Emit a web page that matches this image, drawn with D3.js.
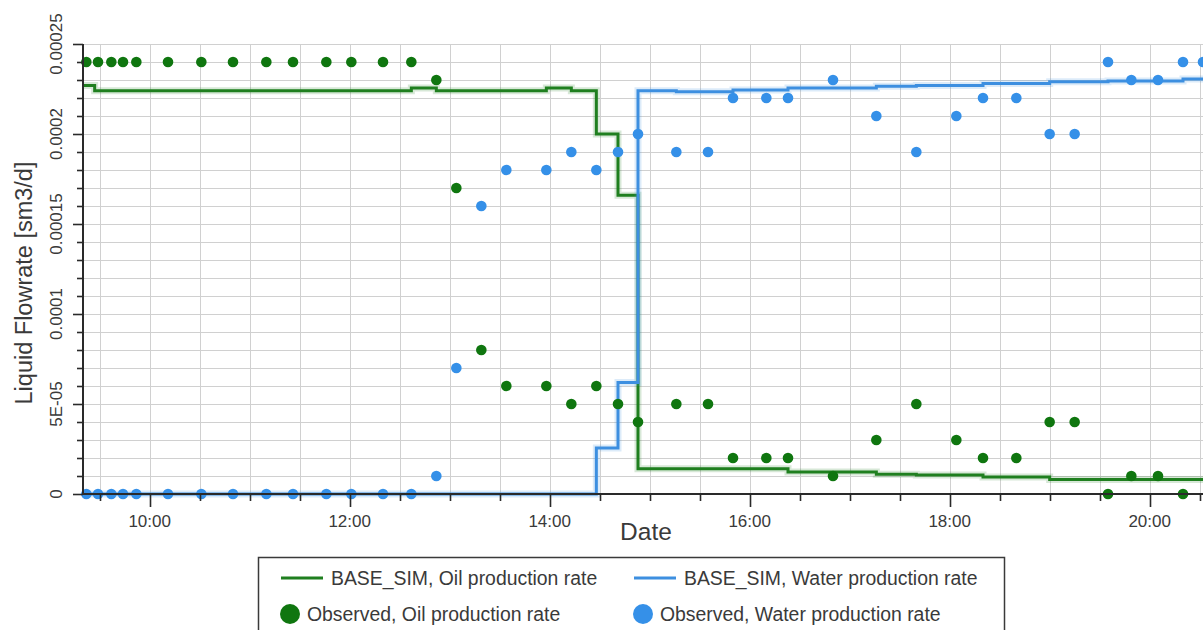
<!DOCTYPE html>
<html>
<head>
<meta charset="utf-8">
<script src="https://cdn.jsdelivr.net/npm/d3@7"></script>
<style>
  html, body { margin: 0; padding: 0; background: #fff; overflow: hidden; }
  svg { display: block; font-family: Arial, "Liberation Sans", sans-serif; }
</style>
</head>
<body>
<svg id="chart" width="1203" height="630"></svg>
<script>
// Observations (rates in sm3/d)
const obsTimes = ["9:22","9:29","9:37","9:44","9:52","10:11","10:31","10:50","11:10","11:26","11:46",
  "12:01","12:20","12:37","12:52","13:04","13:19","13:34","13:58","14:13","14:28","14:41","14:53",
  "15:16","15:35","15:50","16:10","16:23","16:50","17:16","17:40","18:04","18:20","18:40","19:00",
  "19:15","19:35","19:49","20:05","20:20","20:32"];
const oilObs = [24e-5,24e-5,24e-5,24e-5,24e-5,24e-5,24e-5,24e-5,24e-5,24e-5,24e-5,
  24e-5,24e-5,24e-5,23e-5,17e-5,8e-5,6e-5,6e-5,5e-5,6e-5,5e-5,4e-5,
  5e-5,5e-5,2e-5,2e-5,2e-5,1e-5,3e-5,5e-5,3e-5,2e-5,2e-5,4e-5,
  4e-5,0,1e-5,1e-5,0,null];
const waterObs = [0,0,0,0,0,0,0,0,0,0,0,
  0,0,0,1e-5,7e-5,16e-5,18e-5,18e-5,19e-5,18e-5,19e-5,20e-5,
  19e-5,19e-5,22e-5,22e-5,22e-5,23e-5,21e-5,19e-5,21e-5,22e-5,22e-5,20e-5,
  20e-5,24e-5,23e-5,23e-5,24e-5,24e-5];

// Simulation (step after)
const simTimes = ["9:20","9:27","12:37","12:52","13:58","14:13","14:28","14:41","14:53","15:16",
  "15:50","16:23","17:16","17:40","18:20","19:00","19:35","20:20","20:35"];
const oilSim = [22.7e-5,22.4e-5,22.55e-5,22.4e-5,22.55e-5,22.4e-5,20.0e-5,16.6e-5,1.4e-5,1.4e-5,
  1.4e-5,1.22e-5,1.1e-5,1.05e-5,0.95e-5,0.8e-5,0.8e-5,0.8e-5,0.8e-5];
const waterSim = [0,0,0,0,0,0,2.55e-5,6.2e-5,22.4e-5,22.35e-5,
  22.45e-5,22.55e-5,22.65e-5,22.7e-5,22.8e-5,22.9e-5,22.95e-5,23.05e-5,23.05e-5];

const yTicks = [0, 5e-5, 10e-5, 15e-5, 20e-5, 25e-5];
const yTickLabels = ["0", "5E-05", "0.0001", "0.00015", "0.0002", "0.00025"];

const legendItems = [
  { label: "BASE_SIM, Oil production rate", kind: "line", color: "#1f7f1f" },
  { label: "BASE_SIM, Water production rate", kind: "line", color: "#3d8fe0" },
  { label: "Observed, Oil production rate", kind: "dot", color: "#0f760f" },
  { label: "Observed, Water production rate", kind: "dot", color: "#3590e8" }
];

const OIL_LINE = "#1f7f1f", WATER_LINE = "#3d8fe0";
const OIL_DOT = "#0f760f", WATER_DOT = "#3590e8";
const GRID = "#d0d0d0", AXIS = "#2a2a2a", TEXT = "#3a3a3a";

const parse = d3.timeParse("%H:%M");
const svg = d3.select("#chart");

const mLeft = 83, mTop = 44, mBottom = 494;
const x = d3.scaleTime()
  .domain([parse("9:20"), parse("20:35")])
  .range([mLeft, mLeft + 100 * (11 + 15 / 60)]);
const y = d3.scaleLinear().domain([0, 25e-5]).range([mBottom, mTop]);

const plot = svg.append("g");

// grid
const halfHours = d3.timeMinute.every(30).range(parse("9:30"), parse("20:35"));
plot.append("g").selectAll("line").data(halfHours).join("line")
  .attr("x1", (d) => Math.round(x(d)) + 0.5).attr("x2", (d) => Math.round(x(d)) + 0.5)
  .attr("y1", mTop).attr("y2", mBottom)
  .attr("stroke", GRID).attr("stroke-width", 1);
const yMinor = d3.range(1, 26).map((i) => i * 1e-5);
plot.append("g").selectAll("line").data(yMinor).join("line")
  .attr("x1", mLeft).attr("x2", 1210)
  .attr("y1", (d) => Math.round(y(d)) + 0.5).attr("y2", (d) => Math.round(y(d)) + 0.5)
  .attr("stroke", GRID).attr("stroke-width", 1);

// simulated lines
const simData = simTimes.map((t, i) => ({ t: parse(t), oil: oilSim[i], water: waterSim[i] }));
const lineOf = (key) => d3.line().curve(d3.curveStepAfter)
  .x((d) => x(d.t)).y((d) => y(d[key]));

[["oil", OIL_LINE], ["water", WATER_LINE]].forEach(([key, col]) => {
  plot.append("path").datum(simData)
    .attr("d", lineOf(key)).attr("fill", "none")
    .attr("stroke", col).attr("stroke-opacity", 0.18).attr("stroke-width", 7);
  plot.append("path").datum(simData)
    .attr("d", lineOf(key)).attr("fill", "none")
    .attr("stroke", col).attr("stroke-width", 3);
});

// observed points
const obs = obsTimes.map((t, i) => ({ t: parse(t), oil: oilObs[i], water: waterObs[i] }));
plot.append("g").selectAll("circle").data(obs.filter((d) => d.water != null)).join("circle")
  .attr("cx", (d) => x(d.t)).attr("cy", (d) => y(d.water)).attr("r", 5.3)
  .attr("fill", WATER_DOT);
plot.append("g").selectAll("circle").data(obs.filter((d) => d.oil != null)).join("circle")
  .attr("cx", (d) => x(d.t)).attr("cy", (d) => y(d.oil)).attr("r", 5.3)
  .attr("fill", OIL_DOT);

// y axis
const yAxis = svg.append("g");
yAxis.append("line").attr("x1", mLeft).attr("x2", mLeft).attr("y1", mTop).attr("y2", mBottom + 1)
  .attr("stroke", AXIS).attr("stroke-width", 2);
yAxis.selectAll(".tk").data(yMinor.concat([0])).join("line")
  .attr("x1", (d) => (yTicks.some((v) => Math.abs(v - d) < 1e-9) ? mLeft - 10 : mLeft - 6))
  .attr("x2", mLeft)
  .attr("y1", (d) => Math.round(y(d)) + 0.5).attr("y2", (d) => Math.round(y(d)) + 0.5)
  .attr("stroke", AXIS).attr("stroke-width", 1.6);
yAxis.selectAll("text").data(yTicks).join("text")
  .attr("transform", (d) => `translate(62,${y(d)}) rotate(-90)`)
  .attr("text-anchor", "middle")
  .attr("font-size", 17).attr("fill", TEXT)
  .text((d, i) => yTickLabels[i]);

svg.append("text")
  .attr("transform", `translate(32,283) rotate(-90)`)
  .attr("text-anchor", "middle")
  .attr("font-size", 23.5).attr("fill", TEXT)
  .text("Liquid Flowrate [sm3/d]");

// x axis
const xAxis = svg.append("g");
xAxis.append("line").attr("x1", mLeft - 1).attr("x2", 1210).attr("y1", mBottom).attr("y2", mBottom)
  .attr("stroke", AXIS).attr("stroke-width", 2);
const majors = d3.timeHour.every(2).range(parse("10:00"), parse("20:35"));
xAxis.selectAll(".tk").data(halfHours).join("line")
  .attr("x1", (d) => Math.round(x(d)) + 0.5).attr("x2", (d) => Math.round(x(d)) + 0.5)
  .attr("y1", mBottom)
  .attr("y2", (d) => (d.getMinutes() === 0 && d.getHours() % 2 === 0 ? mBottom + 13 : mBottom + 7))
  .attr("stroke", AXIS).attr("stroke-width", 1.6);
xAxis.selectAll("text").data(majors).join("text")
  .attr("x", (d) => x(d)).attr("y", 527)
  .attr("text-anchor", "middle")
  .attr("font-size", 17).attr("fill", TEXT)
  .text(d3.timeFormat("%H:%M"));

svg.append("text")
  .attr("x", 646).attr("y", 540)
  .attr("text-anchor", "middle")
  .attr("font-size", 24.5).attr("fill", TEXT)
  .text("Date");

// legend
const lg = svg.append("g");
lg.append("rect").attr("x", 258.5).attr("y", 557.5).attr("width", 746).attr("height", 90)
  .attr("fill", "#fff").attr("stroke", "#3a3a3a").attr("stroke-width", 1.5);
const colX = [281, 634], rowY = [578, 614];
legendItems.forEach((it, i) => {
  const cx = colX[i % 2], cy = rowY[Math.floor(i / 2)];
  const g = lg.append("g");
  if (it.kind === "line") {
    g.append("line").attr("x1", cx).attr("x2", cx + 42).attr("y1", cy).attr("y2", cy)
      .attr("stroke", it.color).attr("stroke-width", 3);
    g.append("text").attr("x", cx + 50).attr("y", cy + 6.5)
      .attr("font-size", 19.4).attr("fill", TEXT).text(it.label);
  } else {
    g.append("circle").attr("cx", cx + 9).attr("cy", cy).attr("r", 10).attr("fill", it.color);
    g.append("text").attr("x", cx + 26).attr("y", cy + 6.5)
      .attr("font-size", 19.4).attr("fill", TEXT).text(it.label);
  }
});
</script>
</body>
</html>
